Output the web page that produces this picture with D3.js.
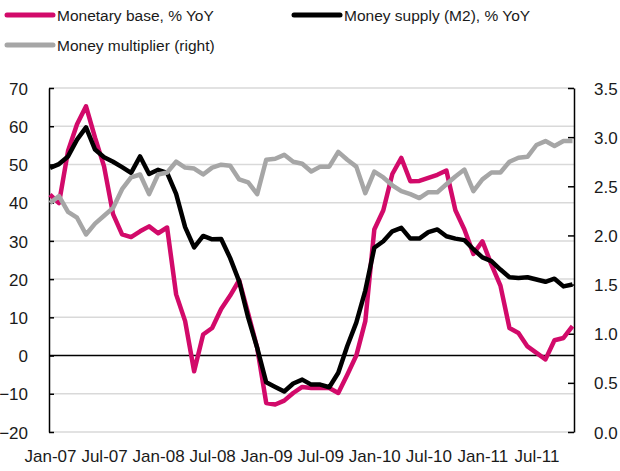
<!DOCTYPE html>
<html>
<head>
<meta charset="utf-8">
<script src="https://cdn.jsdelivr.net/npm/d3@7"></script>
<style>
  body { margin: 0; background: #fff; }
  svg { display: block; font-family: "Liberation Sans", Arial, sans-serif; }
</style>
</head>
<body>
<div id="chart"></div>
<script>
// monthly, Jan-07 .. Nov-11
const months = [];
['07', '08', '09', '10', '11'].forEach(yr => {
  ['Jan', 'Feb', 'Mar', 'Apr', 'May', 'Jun', 'Jul', 'Aug', 'Sep', 'Oct', 'Nov', 'Dec'].forEach(m => months.push(m + '-' + yr));
});
months.splice(59);

const monetaryBase = [
  42.1, 39.9, 53.5, 60.5, 65.2, 57.0, 49.5, 37.0, 31.7, 31.0, 32.5, 33.8,
  32.0, 33.5, 16.0, 9.0, -4.1, 5.5, 7.2, 12.2, 15.7, 19.7, 11.0, 2.0,
  -12.4, -12.8, -11.8, -9.8, -8.2, -8.5, -8.5, -8.5, -9.8, -5.0, 0.0, 9.0,
  33.0, 38.0, 47.5, 51.7, 45.6, 45.7, 46.5, 47.3, 48.4, 38.0, 33.0, 26.6,
  29.9, 23.8, 18.3, 7.2, 5.9, 2.4, 0.7, -1.0, 4.0, 4.6, 7.7
];

const moneySupply = [
  49.1, 50.1, 52.1, 56.5, 59.7, 53.9, 51.9, 50.7, 49.3, 47.8, 52.1, 47.5,
  48.6, 47.8, 42.3, 33.6, 28.3, 31.3, 30.4, 30.5, 25.5, 19.4, 9.9, 2.0,
  -7.0, -8.2, -9.4, -7.3, -6.3, -7.6, -7.6, -8.3, -4.5, 2.5, 8.6, 17.0,
  28.2, 29.9, 32.5, 33.4, 30.6, 30.6, 32.3, 33.0, 31.2, 30.6, 30.2, 27.8,
  25.7, 24.7, 22.5, 20.5, 20.3, 20.5, 19.9, 19.3, 20.1, 18.1, 18.6
];

const multiplier = [
  2.33, 2.40, 2.24, 2.18, 2.01, 2.12, 2.20, 2.28, 2.47, 2.59, 2.62, 2.42,
  2.62, 2.64, 2.75, 2.69, 2.68, 2.62, 2.69, 2.72, 2.71, 2.57, 2.54, 2.42,
  2.77, 2.78, 2.82, 2.75, 2.73, 2.65, 2.70, 2.70, 2.85, 2.77, 2.70, 2.43,
  2.65, 2.59, 2.51, 2.45, 2.42, 2.38, 2.44, 2.44, 2.52, 2.60, 2.67, 2.45,
  2.57, 2.64, 2.64, 2.75, 2.79, 2.80, 2.92, 2.96, 2.91, 2.96, 2.96
];

const leftTicks = [-20, -10, 0, 10, 20, 30, 40, 50, 60, 70];
const rightTicks = [0, 0.5, 1, 1.5, 2, 2.5, 3, 3.5];
const xTicks = ['Jan-07', 'Jul-07', 'Jan-08', 'Jul-08', 'Jan-09', 'Jul-09', 'Jan-10', 'Jul-10', 'Jan-11', 'Jul-11'];

const colors = {base: '#d20a6a', m2: '#000000', mult: '#a6a6a6'};

const width = 620, height = 471;
const plot = {left: 49, right: 574, top: 88, bottom: 432};

const svg = d3.select('#chart').append('svg')
  .attr('width', width)
  .attr('height', height);

const x = d3.scalePoint()
  .domain(months)
  .range([50, 572.5]);

const y = d3.scaleLinear()
  .domain([-20, 70])
  .range([plot.bottom, plot.top]);

const y2 = d3.scaleLinear()
  .domain([0, 3.5])
  .range([plot.bottom, plot.top]);

// gridlines
svg.append('g')
  .selectAll('line')
  .data(leftTicks.filter(d => d !== 0))
  .enter()
  .append('line')
  .attr('x1', plot.left)
  .attr('x2', plot.right)
  .attr('y1', d => y(d))
  .attr('y2', d => y(d))
  .attr('stroke', '#d9d9d9')
  .attr('stroke-width', 1.5);

// zero line
svg.append('line')
  .attr('x1', plot.left)
  .attr('x2', plot.right)
  .attr('y1', y(0))
  .attr('y2', y(0))
  .attr('stroke', '#000')
  .attr('stroke-width', 1.5);

// left axis
const gl = svg.append('g')
  .attr('transform', `translate(${plot.left},0)`)
  .call(d3.axisLeft(y).tickValues(leftTicks).tickSizeInner(-5).tickSizeOuter(0).tickPadding(21));

// right axis
const gr = svg.append('g')
  .attr('transform', `translate(${plot.right},0)`)
  .call(d3.axisRight(y2).tickValues(rightTicks).tickFormat(d3.format('.1f')).tickSizeInner(-6).tickSizeOuter(0).tickPadding(20));

[gl, gr].forEach(g => {
  g.select('.domain').attr('stroke', '#000').attr('stroke-width', 1.5);
  g.selectAll('.tick line').attr('stroke', '#000').attr('stroke-width', 1.5);
  g.selectAll('.tick text')
    .attr('fill', '#1a1a1a')
    .style('font-size', '17px')
    .attr('dy', '0.36em');
});

// x axis labels
const gx = svg.append('g')
  .attr('transform', `translate(0,${plot.bottom})`)
  .call(d3.axisBottom(x).tickValues(xTicks).tickSize(0).tickPadding(18));
gx.select('.domain').remove();
gx.selectAll('.tick text')
  .attr('fill', '#1a1a1a')
  .style('font-size', '17px');

// lines
const series = [
  {key: 'base', values: monetaryBase, scale: y},
  {key: 'm2', values: moneySupply, scale: y},
  {key: 'mult', values: multiplier, scale: y2},
];

series.forEach(s => {
  const line = d3.line()
    .x((d, i) => x(months[i]))
    .y(d => s.scale(d));
  svg.append('path')
    .datum(s.values)
    .attr('fill', 'none')
    .attr('stroke', colors[s.key])
    .attr('stroke-width', 4.5)
    .attr('stroke-linejoin', 'round')
    .attr('d', line);
});

// legend
const legend = [
  {name: 'Monetary base, % YoY', color: colors.base, x: 7, y: 15},
  {name: 'Money supply (M2), % YoY', color: colors.m2, x: 294, y: 15},
  {name: 'Money multiplier (right)', color: colors.mult, x: 7, y: 45},
];

const lg = svg.selectAll('.legend')
  .data(legend)
  .enter()
  .append('g')
  .attr('transform', d => `translate(${d.x},${d.y})`);

lg.append('line')
  .attr('x1', 0)
  .attr('x2', 46)
  .attr('stroke', d => d.color)
  .attr('stroke-width', 5)
  .attr('stroke-linecap', 'round');

lg.append('text')
  .attr('x', 50)
  .attr('dy', '0.36em')
  .attr('fill', '#1a1a1a')
  .style('font-size', '15.5px')
  .text(d => d.name);
</script>
</body>
</html>
